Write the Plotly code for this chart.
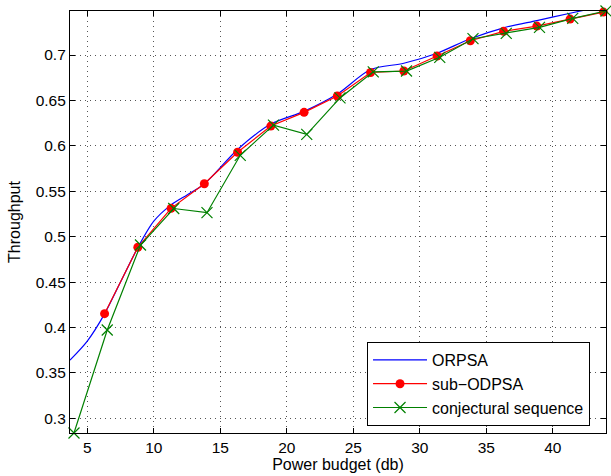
import plotly.graph_objects as go

# ORPSA (smooth reference curve)
orpsa_x = [3.7, 5.0, 6.3, 7.5, 8.8, 10.0, 11.3, 12.5, 13.8, 16.3, 18.8, 21.3, 23.8, 26.3, 28.8, 31.3, 33.8, 36.3, 38.8, 41.3, 43.8]
orpsa_y = [0.364, 0.385, 0.415, 0.450, 0.488, 0.517, 0.535, 0.546, 0.558, 0.596, 0.624, 0.638, 0.657, 0.684, 0.691, 0.702, 0.718, 0.730, 0.738, 0.746, 0.754]

# sub-ODPSA
sub_x = [6.3, 8.8, 11.3, 13.8, 16.3, 18.8, 21.3, 23.8, 26.3, 28.8, 31.3, 33.8, 36.3, 38.8, 41.3, 43.8]
sub_y = [0.4152, 0.4883, 0.5312, 0.5583, 0.5929, 0.6218, 0.6369, 0.6549, 0.6808, 0.6824, 0.6990, 0.7157, 0.7261, 0.7319, 0.7396, 0.7473]

# conjectural sequence
conj_x = [4.0, 6.5, 9.0, 11.5, 14.0, 16.5, 19.0, 21.5, 24.0, 26.5, 29.0, 31.5, 34.0, 36.5, 39.0, 41.5, 44.0]
conj_y = [0.2838, 0.3972, 0.4908, 0.5310, 0.5264, 0.5896, 0.6229, 0.6127, 0.6528, 0.6815, 0.6824, 0.6975, 0.7180, 0.7239, 0.7305, 0.7404, 0.7485]

xticks = [5, 10, 15, 20, 25, 30, 35, 40]
yticks = [0.3, 0.35, 0.4, 0.45, 0.5, 0.55, 0.6, 0.65, 0.7]
yticklabels = ["0.3", "0.35", "0.4", "0.45", "0.5", "0.55", "0.6", "0.65", "0.7"]

FONT = "Liberation Sans, Arial, sans-serif"

fig = go.Figure()
fig.add_trace(go.Scatter(x=orpsa_x, y=orpsa_y, mode="lines", name="ORPSA",
                         line=dict(color="#0000ff", width=1.2, shape="spline", smoothing=0.8)))
fig.add_trace(go.Scatter(x=sub_x, y=sub_y, mode="lines+markers", name="sub\u2212ODPSA",
                         line=dict(color="#ff0000", width=1.2),
                         marker=dict(symbol="circle", size=9, color="#ff0000"),
                         cliponaxis=False))
fig.add_trace(go.Scatter(x=conj_x, y=conj_y, mode="lines+markers", name="conjectural sequence",
                         line=dict(color="#008000", width=1.2),
                         marker=dict(symbol="x-thin", size=11, line=dict(color="#008000", width=1.2)),
                         cliponaxis=False))

axis_common = dict(
    showline=True, linecolor="black", linewidth=1.2, mirror="ticks",
    ticks="inside", ticklen=5, tickcolor="black", tickwidth=1,
    showgrid=True, gridcolor="#555555", griddash="1px,4px", gridwidth=1,
    zeroline=False,
    tickfont=dict(family=FONT, size=15.5, color="black"),
)

fig.update_xaxes(range=[3.7, 44.0], tickvals=xticks,
                 title=dict(text="Power budget (db)", standoff=1,
                            font=dict(family=FONT, size=16, color="black")),
                 **axis_common)
fig.update_yaxes(range=[0.2838, 0.7485], tickvals=yticks, ticktext=yticklabels,
                 title=dict(text="Throughput", standoff=11,
                            font=dict(family=FONT, size=16, color="black")),
                 **axis_common)

fig.update_layout(
    width=611, height=476,
    margin=dict(l=70, r=5, t=11, b=43),
    plot_bgcolor="white", paper_bgcolor="white",
    font=dict(family=FONT, size=16, color="black"),
    legend=dict(x=0.9702, y=0.0166, xanchor="right", yanchor="bottom",
                bgcolor="white", bordercolor="black", borderwidth=1,
                font=dict(family=FONT, size=16, color="black"),
                tracegroupgap=0, itemwidth=54),
    showlegend=True,
)

fig.write_html("out.html")
